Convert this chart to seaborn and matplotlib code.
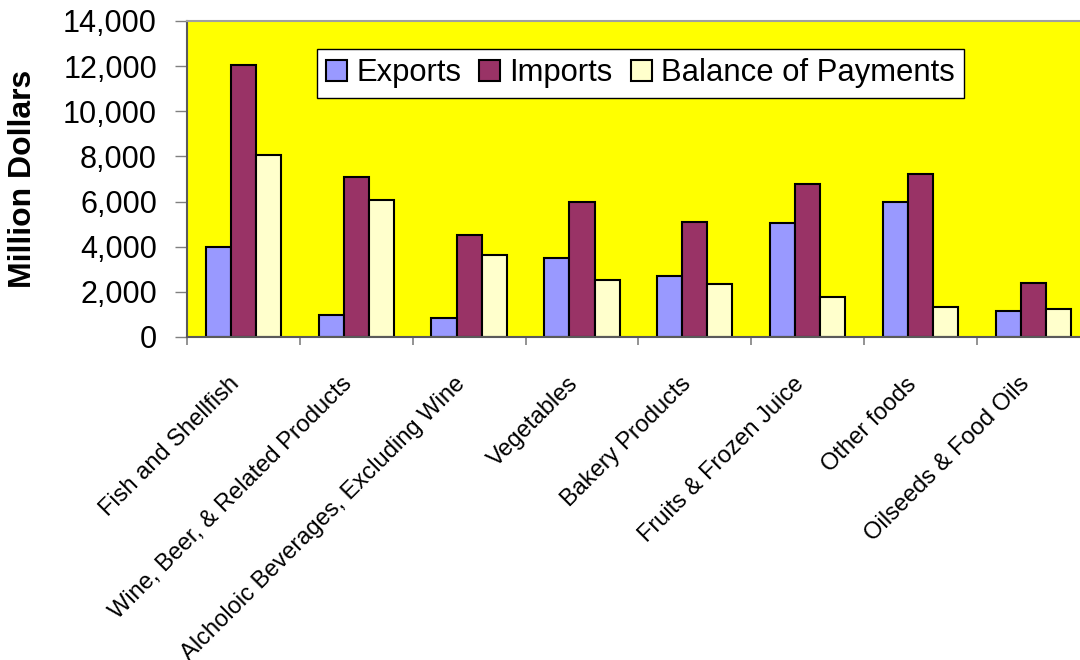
import matplotlib
matplotlib.use("Agg")
import matplotlib.pyplot as plt
from matplotlib.ticker import FuncFormatter, FixedLocator
from matplotlib.transforms import ScaledTranslation
import seaborn as sns
import pandas as pd

categories = [
    "Fish and Shellfish",
    "Wine, Beer, & Related Products",
    "Alcholoic Beverages, Excluding Wine",
    "Vegetables",
    "Bakery Products",
    "Fruits & Frozen Juice",
    "Other foods",
    "Oilseeds & Food Oils",
]
series_names = ["Exports", "Imports", "Balance of Payments"]
exports = [4000, 960, 860, 3520, 2720, 5040, 6000, 1140]
imports = [12040, 7070, 4500, 6000, 5110, 6800, 7240, 2380]
balance = [8050, 6090, 3620, 2540, 2370, 1760, 1320, 1230]
colors = ["#9999FF", "#993366", "#FFFFCC"]
y_ticks = [0, 2000, 4000, 6000, 8000, 10000, 12000, 14000]

df = pd.DataFrame({
    "Category": categories * 3,
    "Series": [series_names[0]] * 8 + [series_names[1]] * 8 + [series_names[2]] * 8,
    "Value": exports + imports + balance,
})

sns.set_style("white")
plt.rcParams["font.family"] = ["Liberation Sans", "DejaVu Sans"]
plt.rcParams["text.color"] = "black"
plt.rcParams["axes.labelcolor"] = "black"
plt.rcParams["xtick.labelcolor"] = "black"
plt.rcParams["ytick.labelcolor"] = "black"

fig = plt.figure(figsize=(10.8, 6.6), dpi=100)
# the plot area runs past the right edge of the canvas
ax = fig.add_axes([0.1731, 0.4894, 0.836, 0.4788])
ax.set_facecolor("#FFFF00")

sns.barplot(
    data=df, x="Category", y="Value", hue="Series",
    order=categories, hue_order=series_names, palette=colors,
    width=0.667, edgecolor="black", linewidth=1.5, saturation=1,
    errorbar=None, ax=ax,
)

ax.set_xlim(-0.5, len(categories) - 0.5)
ax.set_ylim(0, 14000)
ax.yaxis.set_major_locator(FixedLocator(y_ticks))
ax.yaxis.set_major_formatter(FuncFormatter(lambda v, p: f"{int(v):,}"))
ax.tick_params(axis="y", labelsize=22, length=8.6, width=1, color="#808080",
               direction="out", left=True, pad=13)

# category boundaries carry the tick marks; labels sit at the centres
ax.set_xticks([i - 0.5 for i in range(len(categories) + 1)], minor=True)
ax.tick_params(axis="x", which="minor", length=5.5, width=1.2, color="#808080",
               direction="out", bottom=True)
ax.tick_params(axis="x", which="major", length=0, labelsize=17, pad=26)
ax.set_xticks(range(len(categories)))
ax.set_xticklabels(categories, rotation=45, ha="right", va="top",
                   rotation_mode="anchor")
shift = ScaledTranslation(-0.15, 0, fig.dpi_scale_trans)
for lbl in ax.get_xticklabels():
    lbl.set_transform(lbl.get_transform() + shift)

ax.set_xlabel("")
ax.set_ylabel("Million Dollars", fontsize=23, fontweight="bold", labelpad=18)

ax.spines["left"].set_color("#5a5a5a")
ax.spines["bottom"].set_color("#5a5a5a")
ax.spines["top"].set_color("#a0a0a0")
ax.spines["right"].set_visible(False)
for s in ax.spines.values():
    s.set_linewidth(1.5)

leg = ax.legend(
    loc="upper left", bbox_to_anchor=(0.144, 0.911), ncol=3, fontsize=22.3,
    frameon=True, fancybox=False, edgecolor="black", facecolor="white",
    framealpha=1, handlelength=0.68, handleheight=0.68, handletextpad=0.29,
    columnspacing=0.58, borderpad=0.3, borderaxespad=0,
)
leg.get_frame().set_linewidth(1.0)

fig.savefig("out.png", dpi=100, facecolor="white")
